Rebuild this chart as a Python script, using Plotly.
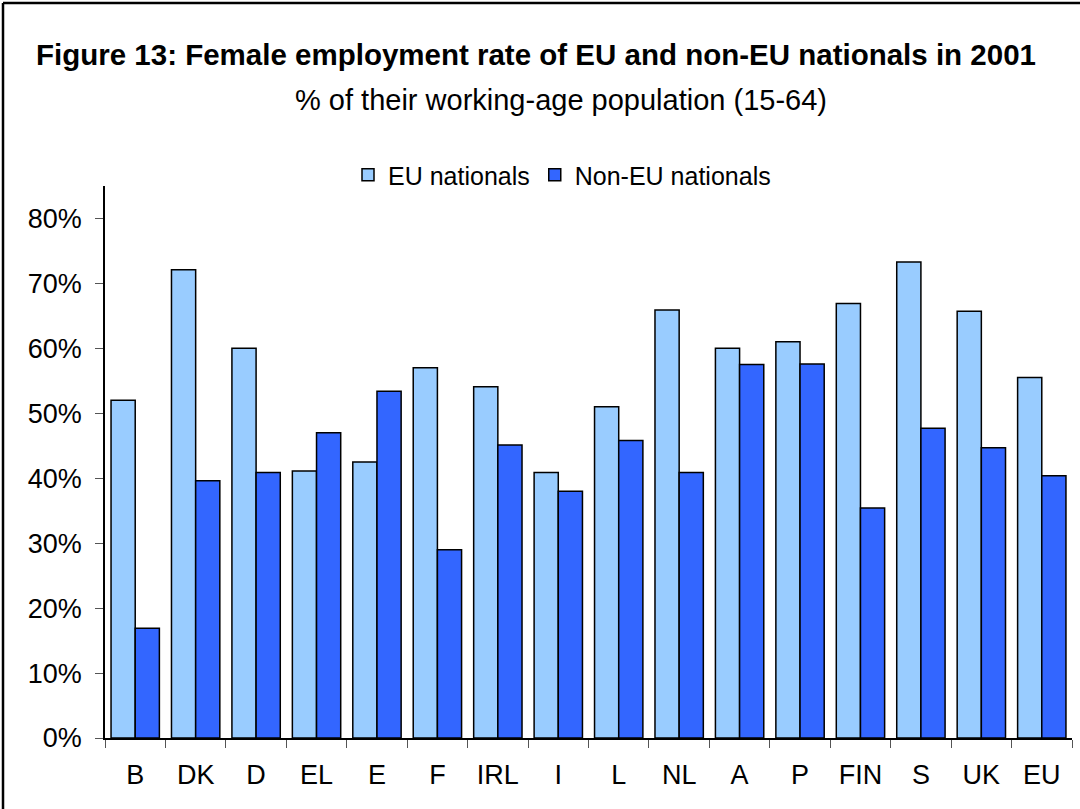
import plotly.graph_objects as go

countries = ["B", "DK", "D", "EL", "E", "F", "IRL", "I", "L", "NL", "A", "P", "FIN", "S", "UK", "EU"]
eu_nationals = [52.0, 72.1, 60.0, 41.1, 42.5, 57.0, 54.1, 40.9, 51.0, 65.9, 60.0, 61.0, 66.9, 73.3, 65.7, 55.5]
non_eu_nationals = [16.9, 39.6, 40.9, 47.0, 53.4, 29.0, 45.1, 38.0, 45.8, 40.9, 57.5, 57.6, 35.4, 47.7, 44.7, 40.4]

W, H = 1080, 809
L, R, T, B = 105, 8, 186, 71
FONT = "Liberation Sans Narrow, Arial Narrow, Liberation Sans, Arial, sans-serif"

fig = go.Figure()
fig.add_trace(go.Bar(
    x=countries, y=[v / 100 for v in eu_nationals], name="EU nationals",
    marker=dict(color="#99CCFF", line=dict(color="black", width=1.5)),
))
fig.add_trace(go.Bar(
    x=countries, y=[v / 100 for v in non_eu_nationals], name="Non-EU nationals",
    marker=dict(color="#3366FF", line=dict(color="black", width=1.5)),
))

pw = W - L - R
ph = H - T - B


def px_x(p):
    return (p - L) / pw


def px_y(p):
    return (H - B - p) / ph


fig.update_layout(
    width=W, height=H,
    margin=dict(l=L, r=R, t=T, b=B),
    paper_bgcolor="white", plot_bgcolor="white",
    font=dict(family=FONT, size=27, color="black"),
    barmode="group", bargap=0.2, bargroupgap=0,
    showlegend=True,
    legend=dict(
        orientation="h", x=px_x(562), xanchor="center", y=px_y(175), yanchor="middle",
        font=dict(size=25), itemwidth=30, traceorder="normal",
    ),
    xaxis=dict(
        showline=True, linecolor="black", linewidth=1.5,
        ticks="outside", tickson="boundaries", ticklen=8, tickcolor="#555",
        ticklabelstandoff=12, showgrid=False, zeroline=False,
    ),
    yaxis=dict(
        range=[0, 0.85], tickvals=[i / 10 for i in range(9)], tickformat=".0%",
        showline=True, linecolor="black", linewidth=1.5,
        ticks="outside", ticklen=8, tickcolor="#555",
        showgrid=False, zeroline=False, ticklabelstandoff=8,
    ),
    annotations=[
        dict(text="<b>Figure 13: Female employment rate of EU and non-EU nationals in 2001</b>",
             x=px_x(536), y=px_y(55), xref="paper", yref="paper", showarrow=False,
             xanchor="center", yanchor="middle", font=dict(size=29.5)),
        dict(text="% of their working-age population (15-64)",
             x=px_x(561), y=px_y(100), xref="paper", yref="paper", showarrow=False,
             xanchor="center", yanchor="middle", font=dict(size=29)),
    ],
    shapes=[
        dict(type="line", xref="paper", yref="paper", x0=px_x(3), x1=px_x(W + 5),
             y0=px_y(3), y1=px_y(3), line=dict(color="black", width=2.5)),
        dict(type="line", xref="paper", yref="paper", x0=px_x(3), x1=px_x(3),
             y0=px_y(3), y1=px_y(H + 5), line=dict(color="black", width=2.5)),
    ],
)

# page body has a default 8px margin; drop it so the figure sits at the window origin
fig.write_html(
    "out.html",
    config={"displayModeBar": False},
    post_script="document.body.style.margin='0';",
)
